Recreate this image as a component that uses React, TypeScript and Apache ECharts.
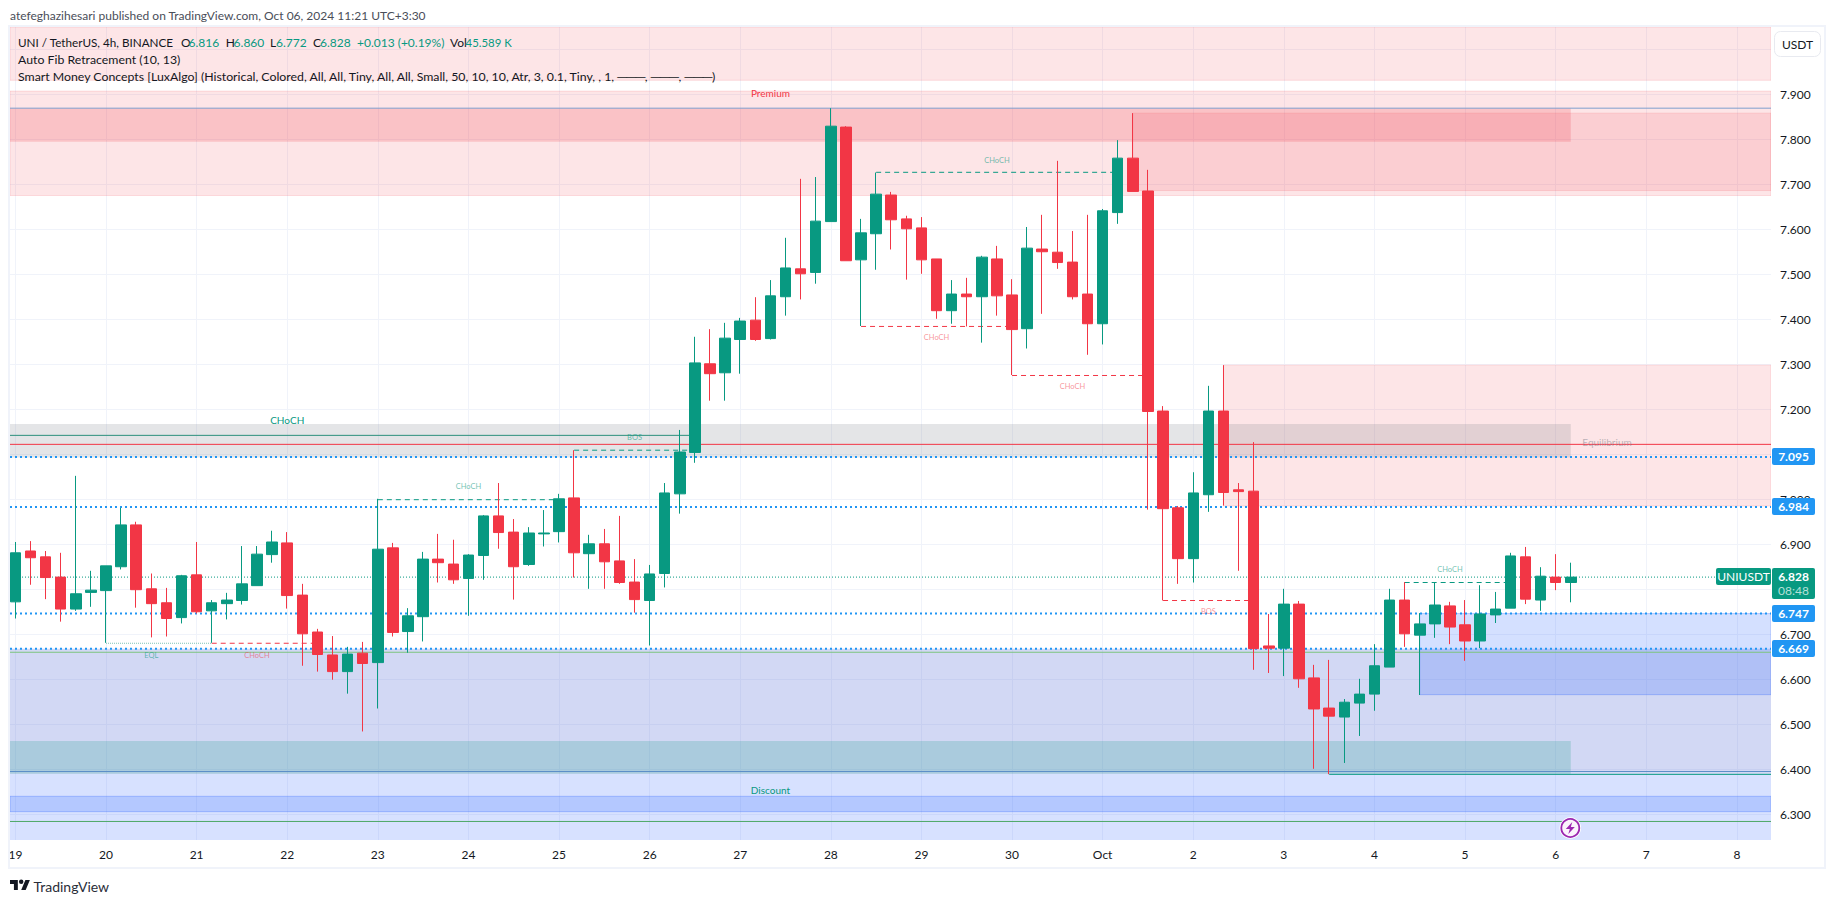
import React, { useEffect, useRef } from "react";
import * as echarts from "echarts";

const dayLabels = ["19","20","21","22","23","24","25","26","27","28","29","30","Oct","2","3","4","5","6","7","8"];
// 6.800 and 7.100 sit fully behind the price tags, as in the reference, so they carry no label
const priceTicks = [6.3,6.4,6.5,6.6,6.7,6.9,7.0,7.2,7.3,7.4,7.5,7.6,7.7,7.8,7.9];
const priceGrid = [6.3,6.4,6.5,6.6,6.7,6.8,6.9,7.0,7.1,7.2,7.3,7.4,7.5,7.6,7.7,7.8,7.9,8.0];

const opens = [6.773,6.886,6.873,6.828,6.757,6.794,6.798,6.851,6.944,6.802,6.771,6.738,6.833,6.753,6.769,6.776,6.809,6.878,6.904,6.788,6.706,6.655,6.618,6.659,6.638,6.893,6.707,6.740,6.868,6.857,6.825,6.876,6.964,6.928,6.856,6.924,6.929,7.004,6.880,6.902,6.864,6.817,6.776,6.836,7.013,7.105,7.302,7.282,7.356,7.399,7.358,7.451,7.513,7.505,7.618,7.828,7.533,7.591,7.677,7.624,7.604,7.535,7.420,7.457,7.451,7.535,7.455,7.380,7.557,7.550,7.528,7.457,7.391,7.638,7.759,7.686,7.197,6.982,6.869,7.011,7.197,7.022,7.019,6.675,6.670,6.768,6.604,6.537,6.517,6.548,6.568,6.628,6.777,6.699,6.724,6.764,6.722,6.686,6.744,6.759,6.873,6.777,6.828,6.816];
const closes = [6.882,6.871,6.827,6.757,6.791,6.799,6.853,6.944,6.800,6.769,6.736,6.831,6.751,6.771,6.777,6.813,6.879,6.906,6.787,6.702,6.656,6.618,6.657,6.636,6.890,6.705,6.742,6.868,6.860,6.822,6.877,6.964,6.927,6.851,6.926,6.926,7.002,6.882,6.902,6.862,6.816,6.778,6.835,7.015,7.106,7.304,7.280,7.359,7.397,7.356,7.453,7.515,7.502,7.619,7.830,7.531,7.593,7.679,7.622,7.602,7.533,7.420,7.457,7.451,7.539,7.453,7.378,7.559,7.551,7.527,7.451,7.391,7.642,7.759,7.685,7.196,6.980,6.869,7.015,7.197,7.016,7.018,6.669,6.670,6.768,6.602,6.535,6.519,6.550,6.568,6.631,6.777,6.702,6.724,6.766,6.717,6.686,6.746,6.757,6.875,6.779,6.830,6.816,6.828];
const lows = [6.736,6.811,6.779,6.729,6.753,6.762,6.682,6.845,6.760,6.694,6.696,6.725,6.747,6.682,6.734,6.767,6.809,6.860,6.758,6.631,6.618,6.600,6.569,6.485,6.536,6.696,6.660,6.685,6.816,6.813,6.742,6.822,6.891,6.778,6.853,6.896,6.905,6.827,6.802,6.802,6.813,6.749,6.676,6.805,6.969,7.082,7.220,7.220,7.280,7.353,7.356,7.409,7.445,7.480,7.618,7.531,7.386,7.511,7.556,7.489,7.502,7.402,7.391,7.385,7.349,7.409,7.277,7.336,7.413,7.513,7.445,7.322,7.345,7.613,7.685,6.978,6.776,6.813,6.816,6.973,6.987,6.842,6.622,6.615,6.608,6.582,6.402,6.390,6.415,6.475,6.531,6.628,6.673,6.566,6.693,6.679,6.642,6.670,6.726,6.759,6.768,6.753,6.799,6.772];
const highs = [6.906,6.908,6.886,6.882,7.053,6.842,6.853,6.982,6.951,6.836,6.804,6.833,6.906,6.777,6.793,6.897,6.897,6.931,6.928,6.813,6.713,6.697,6.673,6.684,7.002,6.904,6.759,6.884,6.924,6.911,6.879,6.966,7.037,6.957,6.939,6.977,7.013,7.110,6.922,6.935,6.964,6.868,6.855,7.037,7.155,7.362,7.379,7.393,7.404,7.450,7.488,7.582,7.713,7.717,7.870,7.830,7.624,7.727,7.684,7.631,7.628,7.535,7.488,7.493,7.542,7.564,7.490,7.606,7.633,7.753,7.597,7.633,7.646,7.799,7.859,7.733,7.208,6.986,7.061,7.253,7.299,7.037,7.128,6.746,6.802,6.775,6.633,6.644,6.557,6.602,6.679,6.802,6.817,6.748,6.815,6.773,6.777,6.810,6.795,6.882,6.895,6.850,6.879,6.860];

const X_MIN = -0.358;
const X_MAX = 116.26;
const Y_MIN = 6.2438;
const Y_MAX = 8.0504;

// zones: [x start, x end, upper price, lower price]
const supplyZones = [
  [X_MIN, X_MAX, 8.0504, 7.932],
  [X_MIN, X_MAX, 7.908, 7.676],
  [74, X_MAX, 7.859, 7.687],
  [80, X_MAX, 7.299, 6.986],
];
const premiumBand = [[X_MIN, 103, 7.87, 7.7956]];
const equilibriumBand = [[X_MIN, 103, 7.168, 7.094]];
const discountZone = [[X_MIN, X_MAX, 6.669, Y_MIN]];
const overlapZone = [[X_MIN, X_MAX, 6.669, 6.391]];
const discountBand = [[X_MIN, 103, 6.4638, 6.3912]];
const demandZones = [
  [X_MIN, X_MAX, 6.3409, 6.3068],
  [93, X_MAX, 6.747, 6.5668],
];

// segments: [x start, x end, price]
const fibBlue = [[X_MIN, X_MAX, 7.87]];
const swingRed = [[X_MIN, X_MAX, 7.123]];
const chochGreen = [[X_MIN, 45, 7.143]];
const midBlue = [[X_MIN, X_MAX, 6.396]];
const swingTeal = [[87, X_MAX, 6.3897]];
const fibLime = [[X_MIN, X_MAX, 6.661]];
const fibGreen = [[X_MIN, X_MAX, 6.285]];
const dashedGreen = [[24, 36, 7.0], [37, 45, 7.11], [57, 73, 7.7275], [92, 99, 6.816]];
const dashedRed = [[13, 20, 6.681], [56, 66, 7.385], [66, 75, 7.276], [76, 82, 6.776]];
const eqlDotted = [[6, 13, 6.681]];
const levelDotted = [[X_MIN, X_MAX, 7.095], [X_MIN, X_MAX, 6.984], [X_MIN, X_MAX, 6.747], [X_MIN, X_MAX, 6.669]];
const lastPriceDotted = [[X_MIN, X_MAX, 6.828]];

// labels: [x, price, text]
const tinyGreenLabels = [[30, 7.03, "CHoCH"], [65, 7.754, "CHoCH"], [95, 6.845, "CHoCH"], [41, 7.138, "BOS"], [9, 6.6535, "EQL"]];
const tinyRedLabels = [[16, 6.6535, "CHoCH"], [61, 7.361, "CHoCH"], [70, 7.252, "CHoCH"], [79, 6.752, "BOS"]];
const bigGreenLabels = [[18, 7.178, "CHoCH"], [50, 6.3557, "Discount"]];
const bigRedLabels = [[50, 7.904, "Premium"]];
const bigGreyLabels = [[105.4, 7.129, "Equilibrium"]];

const FONT = "Lato, 'Noto Sans', sans-serif";

const zoneSeries = (data: number[][], fill: string, stroke: string | null, z: number) => ({
  type: "custom",
  silent: true,
  z,
  clip: true,
  encode: { x: [0, 1], y: [2, 3] },
  data,
  renderItem: (_p: any, api: any) => {
    const a = api.coord([api.value(0), api.value(2)]);
    const b = api.coord([api.value(1), api.value(3)]);
    return {
      type: "rect",
      shape: { x: a[0], y: a[1], width: b[0] - a[0], height: b[1] - a[1] },
      style: { fill, stroke: stroke || "none", lineWidth: stroke ? 1 : 0 },
    };
  },
});

const segmentSeries = (segs: number[][], color: string, width: number, type: any, z = 3) =>
  segs.map((s) => ({
    type: "line",
    silent: true,
    z,
    symbol: "none",
    animation: false,
    lineStyle: { color, width, type },
    data: [[s[0], s[2]], [s[1], s[2]]],
  }));

const labelSeries = (items: any[][], fill: string, size: number) => ({
  type: "custom",
  silent: true,
  z: 6,
  encode: { x: 0, y: 1 },
  data: items,
  renderItem: (p: any, api: any) => {
    const item = items[p.dataIndex];
    const c = api.coord([item[0], item[1]]);
    return {
      type: "text",
      x: c[0],
      y: c[1],
      style: { text: item[2], fill, font: `${size}px ${FONT}`, align: "center", verticalAlign: "middle" },
    };
  },
});

const txt = (x: number, y: number, text: string, fill: string, size = 12, extra: any = {}) => ({
  type: "text",
  x,
  y,
  z: 100,
  silent: true,
  style: { text, fill, font: `${extra.weight || "normal"} ${size}px ${FONT}`, align: extra.align || "left", verticalAlign: "middle" },
});

const box = (x: number, y: number, width: number, height: number, fill: string, r = 2) => ({
  type: "rect",
  z: 99,
  silent: true,
  shape: { x, y, width, height, r },
  style: { fill },
});

const TEAL = "#089981";
const INK = "#131722";

echarts.graphic.registerShape(
  "tvLogo",
  echarts.graphic.extendPath(
    "M14 22H7V11H0V4h14v18zM28 22h-8l7.5-18h8L28 22zM24 7a4 4 0 1 1-8 0a4 4 0 1 1 8 0z",
    {}
  )
);

export default function App() {
  const ref = useRef<HTMLDivElement>(null);
  useEffect(() => {
    const chart = echarts.init(ref.current as HTMLDivElement, undefined, { renderer: "svg" });
    const candles = opens.map((o, i) => [i, o, closes[i], lows[i], highs[i]]);
    const dayIndexes = dayLabels.map((_, i) => i * 6);
    chart.setOption({
      animation: false,
      backgroundColor: "#ffffff",
      grid: { left: 10, right: 64, top: 27, bottom: 63, containLabel: false },
      xAxis: {
        type: "value",
        min: X_MIN,
        max: X_MAX,
        axisLine: { show: false },
        axisTick: { show: false, customValues: dayIndexes },
        axisLabel: {
          customValues: dayIndexes,
          color: INK,
          fontSize: 12,
          fontFamily: FONT,
          margin: 8,
          formatter: (v: number) => dayLabels[Math.round(v / 6)] ?? "",
        },
        splitLine: { show: true, lineStyle: { color: "#f0f3fa", width: 1 } },
      },
      yAxis: {
        type: "value",
        position: "right",
        min: Y_MIN,
        max: Y_MAX,
        axisLine: { show: false },
        axisTick: { show: false, customValues: priceGrid },
        axisLabel: {
          customValues: priceTicks,
          color: INK,
          fontSize: 12,
          fontFamily: FONT,
          margin: 9,
          formatter: (v: number) => v.toFixed(3),
        },
        splitLine: { show: true, lineStyle: { color: "#f0f3fa", width: 1 } },
      },
      series: [
        zoneSeries(supplyZones, "rgba(242,54,69,0.13)", "rgba(242,54,69,0.14)", 1),
        zoneSeries(premiumBand, "rgba(242,54,69,0.2)", null, 1),
        zoneSeries(equilibriumBand, "rgba(120,123,134,0.2)", null, 1),
        zoneSeries(discountZone, "rgba(41,98,255,0.19)", null, 1),
        zoneSeries(overlapZone, "rgba(130,80,60,0.06)", null, 1),
        zoneSeries(discountBand, "rgba(8,153,129,0.2)", null, 2),
        zoneSeries(demandZones, "rgba(41,98,255,0.2)", "rgba(41,98,255,0.28)", 2),
        ...segmentSeries(fibBlue, "#7f9fcf", 1, "solid"),
        ...segmentSeries(swingRed, "#f23645", 1, "solid"),
        ...segmentSeries(chochGreen, "#2b8f7b", 1, "solid"),
        ...segmentSeries(midBlue, "#5c8fc8", 1, "solid"),
        ...segmentSeries(swingTeal, TEAL, 1, "solid"),
        ...segmentSeries(fibLime, "#7cc47f", 1, "solid"),
        ...segmentSeries(fibGreen, "#4ca866", 1, "solid"),
        ...segmentSeries(dashedGreen, TEAL, 1, [5, 4]),
        ...segmentSeries(dashedRed, "#f23645", 1, [5, 4]),
        ...segmentSeries(eqlDotted, "#7cc4b6", 1, [1, 1]),
        ...segmentSeries(levelDotted, "#2196f3", 2, [2, 3]),
        ...segmentSeries(lastPriceDotted, TEAL, 1, [1, 2]),
        {
          type: "candlestick",
          z: 5,
          silent: true,
          barWidth: 11,
          encode: { x: 0, y: [1, 2, 3, 4] },
          data: candles,
          itemStyle: {
            color: TEAL,
            color0: "#f23645",
            borderColor: TEAL,
            borderColor0: "#f23645",
            borderWidth: 1,
          },
        },
        labelSeries(tinyGreenLabels, "rgba(8,153,129,0.6)", 7.5),
        labelSeries(tinyRedLabels, "rgba(242,54,69,0.55)", 7.5),
        labelSeries(bigGreenLabels, TEAL, 10),
        labelSeries(bigRedLabels, "#f23645", 10),
        labelSeries(bigGreyLabels, "rgba(120,123,134,0.5)", 10),
      ],
      graphic: [
        { type: "rect", z: 98, silent: true, shape: { x: 9, y: 26, width: 1816, height: 842 }, style: { fill: "none", stroke: "#f0f3fa", lineWidth: 2 } },

        txt(10, 15, "atefeghazihesari published on TradingView.com, Oct 06, 2024 11:21 UTC+3:30", "#4a4e59"),

        txt(18, 42, "UNI / TetherUS, 4h, BINANCE", INK, 11.7),
        txt(181, 42, "O", INK), txt(188.5, 42, "6.816", TEAL),
        txt(225.7, 42, "H", INK), txt(233.6, 42, "6.860", TEAL),
        txt(270, 42, "L", INK), txt(276, 42, "6.772", TEAL),
        txt(313, 42, "C", INK), txt(320, 42, "6.828", TEAL),
        txt(357, 42, "+0.013 (+0.19%)", TEAL),
        txt(450, 42, "Vol", INK), txt(465.6, 42, "45.589 K", TEAL, 11.4),
        txt(18, 59, "Auto Fib Retracement (10, 13)", INK, 12.3),
        txt(18, 76, "Smart Money Concepts [LuxAlgo] (Historical, Colored, All, All, Tiny, All, All, Small, 50, 10, 10, Atr, 3, 0.1, Tiny, , 1, ───, ───, ───)", INK, 12.3),

        { type: "rect", z: 99, silent: true, shape: { x: 1774.5, y: 31.5, width: 46, height: 25, r: 6 }, style: { fill: "#ffffff", stroke: "#e8eaf0", lineWidth: 1 } },
        txt(1797.5, 44.5, "USDT", INK, 12, { align: "center" }),

        box(1772, 605, 43, 17, "#2196f3"),
        txt(1793.5, 613.5, "6.747", "#ffffff", 12, { align: "center", weight: "bold" }),
        box(1772, 640, 43, 17, "#2196f3"),
        txt(1793.5, 648.5, "6.669", "#ffffff", 12, { align: "center", weight: "bold" }),
        box(1772, 448, 43, 17, "#2196f3"),
        txt(1793.5, 456.5, "7.095", "#ffffff", 12, { align: "center", weight: "bold" }),
        box(1772, 498, 43, 17, "#2196f3"),
        txt(1793.5, 506.5, "6.984", "#ffffff", 12, { align: "center", weight: "bold" }),
        box(1716, 568, 55, 17, TEAL),
        txt(1743.5, 576.5, "UNIUSDT", "#ffffff", 12, { align: "center" }),
        box(1772, 568, 43, 31, TEAL),
        txt(1793.5, 576.5, "6.828", "#ffffff", 12, { align: "center", weight: "bold" }),
        txt(1793.5, 590.5, "08:48", "#b5e0d8", 12, { align: "center" }),

        { type: "circle", z: 99, silent: true, shape: { cx: 1570.3, cy: 828, r: 10.8 }, style: { fill: "#ffffff" } },
        { type: "circle", z: 99, silent: true, shape: { cx: 1570.3, cy: 828, r: 9 }, style: { fill: "#fbf3fc", stroke: "#9c27b0", lineWidth: 1.8 } },
        { type: "polygon", z: 100, silent: true, x: 1570.3, y: 828, shape: { points: [[2, -6], [-4.5, 1], [-0.5, 1], [-2, 6], [4.5, -1], [0.5, -1]] }, style: { fill: "#9c27b0" } },

        { type: "tvLogo", z: 100, silent: true, x: 10, y: 877.8, scaleX: 0.56, scaleY: 0.56, style: { fill: INK } },
        txt(33.5, 886, "TradingView", "#2a2e39", 14),
      ],
    });
    return () => chart.dispose();
  }, []);
  return <div ref={ref} style={{ position: "absolute", left: 0, top: 0, width: 1835, height: 903 }} />;
}
